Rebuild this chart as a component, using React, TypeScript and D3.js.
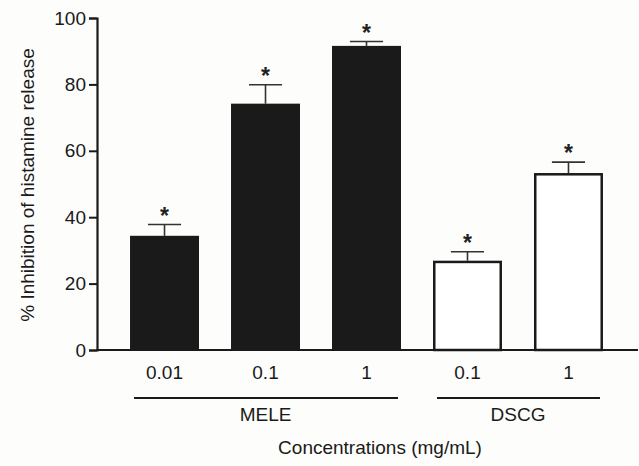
import { useEffect, useRef } from 'react';
import * as d3 from 'd3';

const WIDTH = 639;
const HEIGHT = 466;
const X0 = 97;
const X1 = 636;
const Y_TOP = 18;
const Y_BOT = 350;
const FS = 19;

const labels = ['0.01', '0.1', '1', '0.1', '1'];
const values = [34.4, 74.2, 91.6, 26.9, 53.3];
const errors = [3.4, 5.7, 1.3, 2.7, 3.3];
const groupOf = ['MELE', 'MELE', 'MELE', 'DSCG', 'DSCG'];
const groups = [
  { name: 'MELE', first: 0, last: 2 },
  { name: 'DSCG', first: 3, last: 4 },
];
const yTicks = [0, 20, 40, 60, 80, 100];

export default function App() {
  const svgRef = useRef<SVGSVGElement>(null);

  useEffect(() => {
    const svg = d3.select(svgRef.current);
    svg.selectAll('*').remove();
    const font = 'Liberation Sans, Arial, sans-serif';

    svg.append('rect').attr('width', WIDTH).attr('height', HEIGHT).attr('fill', '#fdfdfb');

    const x = d3.scaleBand<number>()
      .domain(d3.range(values.length))
      .range([X0, X1])
      .paddingInner(0.317)
      .paddingOuter(0.327);
    const y = d3.scaleLinear().domain([0, 100]).range([Y_BOT, Y_TOP]);

    // Bars
    values.forEach((v, i) => {
      const filled = groupOf[i] === 'MELE';
      const bx = x(i)!;
      const bw = x.bandwidth();
      const cx = bx + bw / 2;
      const top = y(v + errors[i]);

      // Error bar
      svg.append('line')
        .attr('x1', cx).attr('x2', cx)
        .attr('y1', y(v)).attr('y2', top)
        .attr('stroke', '#333').attr('stroke-width', 1.6);
      svg.append('line')
        .attr('x1', cx - bw * 0.24).attr('x2', cx + bw * 0.24)
        .attr('y1', top).attr('y2', top)
        .attr('stroke', '#333').attr('stroke-width', 1.6);

      if (filled) {
        svg.append('rect')
          .attr('x', bx).attr('y', y(v))
          .attr('width', bw).attr('height', y(0) - y(v))
          .attr('fill', '#1a1a1a');
      } else {
        svg.append('rect')
          .attr('x', bx + 1.25).attr('y', y(v) + 1.25)
          .attr('width', bw - 2.5).attr('height', y(0) - y(v) - 1.25)
          .attr('fill', '#fff')
          .attr('stroke', '#1a1a1a').attr('stroke-width', 2.5);
      }

      // Significance asterisk
      svg.append('text')
        .attr('x', cx).attr('y', top - 1)
        .attr('text-anchor', 'middle')
        .attr('font-family', font)
        .attr('font-size', 23)
        .attr('font-weight', 'bold')
        .attr('fill', '#222')
        .text('*');

      // Category label
      svg.append('text')
        .attr('x', cx).attr('y', 379)
        .attr('text-anchor', 'middle')
        .attr('font-family', font)
        .attr('font-size', FS)
        .attr('fill', '#1a1a1a')
        .text(labels[i]);
    });

    // Y axis
    const yAxis = svg.append('g')
      .attr('transform', `translate(${X0},0)`)
      .call(d3.axisLeft(y).tickValues(yTicks).tickSize(8).tickPadding(3));
    yAxis.select('.domain').attr('stroke', '#1a1a1a').attr('stroke-width', 2.2);
    yAxis.selectAll('.tick line').attr('stroke', '#1a1a1a').attr('stroke-width', 2);
    yAxis.selectAll('.tick text')
      .attr('font-family', font)
      .attr('font-size', FS)
      .attr('fill', '#1a1a1a');

    // X axis baseline
    svg.append('line')
      .attr('x1', X0 - 1).attr('x2', 638)
      .attr('y1', y(0)).attr('y2', y(0))
      .attr('stroke', '#1a1a1a').attr('stroke-width', 2.2);

    // Group brackets
    groups.forEach((g) => {
      const gx1 = x(g.first)! + 4;
      const gx2 = x(g.last)! + x.bandwidth() - 3;
      svg.append('line')
        .attr('x1', gx1).attr('x2', gx2)
        .attr('y1', 398).attr('y2', 398)
        .attr('stroke', '#1a1a1a').attr('stroke-width', 2.2);
      svg.append('text')
        .attr('x', (x(g.first)! + x(g.last)! + x.bandwidth()) / 2)
        .attr('y', 421)
        .attr('text-anchor', 'middle')
        .attr('font-family', font)
        .attr('font-size', FS)
        .attr('fill', '#1a1a1a')
        .text(g.name);
    });

    // Axis titles
    svg.append('text')
      .attr('x', 380).attr('y', 454)
      .attr('text-anchor', 'middle')
      .attr('font-family', font)
      .attr('font-size', FS)
      .attr('fill', '#1a1a1a')
      .text('Concentrations (mg/mL)');
    svg.append('text')
      .attr('transform', `translate(34,185) rotate(-90)`)
      .attr('text-anchor', 'middle')
      .attr('font-family', font)
      .attr('font-size', FS)
      .attr('fill', '#1a1a1a')
      .text('% Inhibition of histamine release');
  }, []);

  return (
    <svg
      ref={svgRef}
      width={WIDTH}
      height={HEIGHT}
      style={{ position: 'absolute', left: 0, top: 0 }}
    />
  );
}
